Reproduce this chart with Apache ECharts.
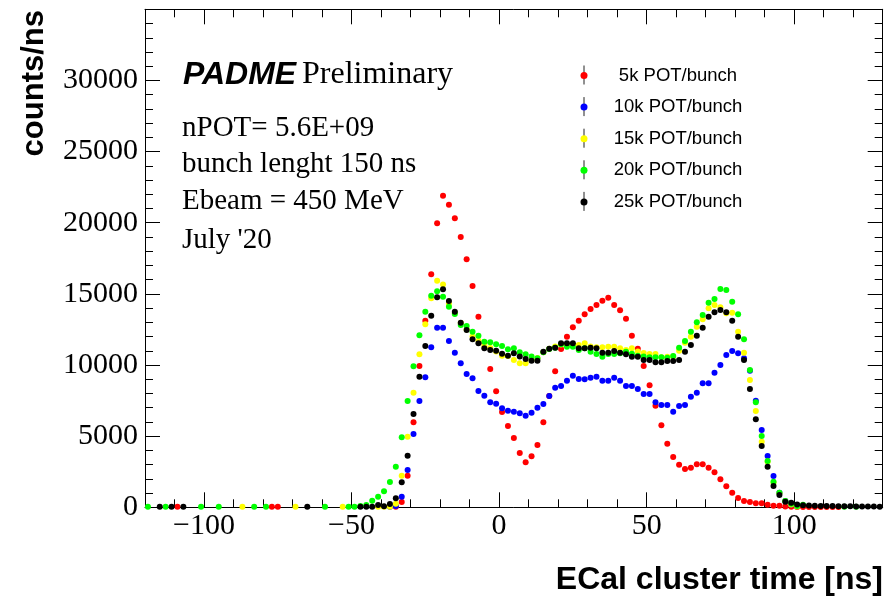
<!DOCTYPE html>
<html><head><meta charset="utf-8">
<script src="https://cdn.jsdelivr.net/npm/echarts@6/dist/echarts.min.js"></script>
<style>html,body{margin:0;padding:0;background:#fff}#c{width:887px;height:600px}</style>
</head><body><div id="c"></div>
<script>
// bin centres (ns)
const timeNs = [
-119,-117,-115,-113,-111,-109,-107,-105,-103,-101,
-99,-97,-95,-93,-91,-89,-87,-85,-83,-81,
-79,-77,-75,-73,-71,-69,-67,-65,-63,-61,
-59,-57,-55,-53,-51,-49,-47,-45,-43,-41,
-39,-37,-35,-33,-31,-29,-27,-25,-23,-21,
-19,-17,-15,-13,-11,-9,-7,-5,-3,-1,
1,3,5,7,9,11,13,15,17,19,
21,23,25,27,29,31,33,35,37,39,
41,43,45,47,49,51,53,55,57,59,
61,63,65,67,69,71,73,75,77,79,
81,83,85,87,89,91,93,95,97,99,
101,103,105,107,109,111,113,115,117,119,
121,123,125,127,129];
const n = null;
const pot5k = [
n,n,n,n,n,30,n,n,n,n,
n,n,n,n,n,n,n,n,n,n,
n,30,30,n,n,n,n,n,n,n,
n,n,n,n,n,n,n,n,n,n,
n,n,30,372,2221,5974,9930,13114,16375,19960,
21900,21267,20311,18997,17430,15553,13395,11550,9720,8152,
6698,5714,4870,3816,3163,3584,4378,5974,7820,9558,
11125,11990,12650,13114,13564,13937,14218,14520,14731,14218,
13845,13255,12060,11146,9930,8574,7140,5763,4470,3535,
2994,2692,2783,3022,3022,2783,2460,1968,1476,1026,
654,443,372,281,281,183,112,112,50,30,
20,20,20,20,20,20,20,20,n,n,
n,n,n,n,n];
const pot10k = [
n,n,n,n,n,n,n,n,n,n,
n,n,n,n,n,n,n,n,n,n,
n,n,n,n,n,n,n,n,n,n,
n,n,n,n,n,n,n,n,n,n,
n,30,91,745,2621,5151,7471,9136,11245,12622,
12622,11688,10865,10120,9368,9066,8173,7843,7379,7281,
6958,6789,6719,6606,6438,6649,7000,7260,7822,8405,
8525,8897,9249,9017,8996,9108,9179,8897,8897,9108,
8897,8525,8525,8314,7963,7963,7379,7190,7190,6719,
7119,7190,7773,8054,8715,8715,9460,10001,10704,10985,
10823,10472,9600,7492,5433,3605,2200,1026,450,200,
80,n,n,n,n,n,n,n,n,n,
n,n,n,n,n];
const pot15k = [
n,n,n,n,n,n,n,n,n,n,
n,n,n,n,n,n,30,n,n,n,
n,n,n,n,n,30,n,n,n,n,
n,n,n,30,n,n,n,n,n,30,
30,30,250,2221,4962,8054,10753,12861,14700,15925,
15650,14300,13650,12950,12500,12000,11700,11350,11200,10950,
10654,10633,10352,10120,10120,10350,10500,10900,11150,11300,
11450,11450,11450,11400,11526,11300,11250,11250,11287,11287,
11174,11055,11174,10950,10850,10774,10774,10542,10584,10600,
11000,11568,11990,12693,13213,13986,14218,14056,13635,13677,
12341,10865,8947,6768,4611,3205,1729,984,420,200,
60,n,n,n,n,n,n,n,n,n,
n,n,n,n,n];
const pot20k = [
30,n,n,30,n,n,n,n,n,30,
n,n,30,n,n,n,n,n,30,n,
30,n,n,n,n,n,n,n,n,n,
30,n,n,n,30,30,100,160,464,745,
1124,1778,2853,4920,7471,9910,12088,13747,14871,15180,
14801,14098,13585,12812,12742,12341,12060,11638,11596,11456,
11336,11104,11174,10900,10753,10600,10472,10893,11125,11217,
11456,11287,11287,11055,11174,10936,10774,10584,10774,10774,
10823,10936,10800,10654,10600,10550,10542,10542,10514,10633,
11217,11688,12341,13002,13515,14380,14640,15342,15272,14450,
13564,11807,9650,7380,5011,3254,1800,1026,443,250,
100,180,n,n,n,n,n,n,30,n,
30,n,n,n,n];
const pot25k = [
n,n,30,n,30,n,30,n,n,n,
n,n,n,n,n,n,n,n,n,n,
n,n,n,n,n,n,n,30,n,n,
n,n,n,n,n,n,40,30,30,160,
80,232,633,1757,3626,6557,9178,11336,13465,14759,
15321,14499,13747,12974,12460,11807,11526,11174,11055,11006,
10800,10654,10823,10600,10423,10303,10303,10936,11150,11217,
11526,11526,11526,11174,11174,11217,11174,10865,10865,10985,
10865,10750,10584,10584,10352,10352,10190,10190,10282,10282,
10352,10936,11407,12060,12622,13395,13705,13866,13705,13114,
11990,10352,8314,6185,4308,2853,1497,864,394,323,
200,150,130,110,100,100,90,80,80,70,
60,60,50,50,40];

const seriesNames = ['5k POT/bunch','10k POT/bunch','15k POT/bunch','20k POT/bunch','25k POT/bunch'];
const seriesColors = ['#ff0000','#0000ff','#ffff00','#00ff00','#000000'];
const seriesValues = [pot5k, pot10k, pot15k, pot20k, pot25k];
const xMajorTicks = [-100,-50,0,50,100];
const annotLines = ['nPOT= 5.6E+09','bunch lenght 150 ns','Ebeam = 450 MeV',"July '20"];

function pairs(vals){ const out=[]; for(let i=0;i<timeNs.length;i++){ if(vals[i]!=null) out.push([timeNs[i], vals[i]]);} return out; }

const serif = 'Liberation Serif';
const sans = 'Liberation Sans';
const tickStyle = {show:true, inside:true, length:8, lineStyle:{color:'#000', width:1}};
const majStyle = {show:true, inside:true, length:15, lineStyle:{color:'#000', width:1}};
const lineStyle = {show:true, onZero:false, lineStyle:{color:'#000', width:1}};
const noLine = {show:false, onZero:false};
const fmtX = v => (v % 50 === 0 ? (v < 0 ? '\u2212' + (-v) : String(v)) : '');

const chart = echarts.init(document.getElementById('c'), null, {renderer:'canvas'});
const legendRows = [75, 106.6, 138.2, 169.8, 201.4];
const option = {
  animation:false,
  backgroundColor:'#fff',
  grid:{left:145, right:4.3, top:9.3, bottom:92.7, containLabel:false},
  xAxis:[
    {type:'value', position:'bottom', min:-120, max:130, interval:10, axisLine:lineStyle, axisTick:tickStyle,
     splitLine:{show:false}, axisLabel:{formatter:fmtX, fontFamily:serif, fontSize:30, color:'#000', margin:4}},
    {type:'value', position:'bottom', min:-120, max:130, axisLine:noLine,
     axisTick:Object.assign({customValues:xMajorTicks}, majStyle), splitLine:{show:false}, axisLabel:{show:false}},
    {type:'value', position:'top', min:-120, max:130, interval:10, axisLine:lineStyle, axisTick:tickStyle,
     splitLine:{show:false}, axisLabel:{show:false}},
    {type:'value', position:'top', min:-120, max:130, axisLine:noLine,
     axisTick:Object.assign({customValues:xMajorTicks}, majStyle), splitLine:{show:false}, axisLabel:{show:false}}
  ],
  yAxis:[
    {type:'value', position:'left', min:0, max:35000, interval:5000, axisLine:lineStyle, axisTick:majStyle,
     minorTick:{show:true, splitNumber:5, length:8, lineStyle:{color:'#000'}}, splitLine:{show:false}, minorSplitLine:{show:false},
     axisLabel:{formatter:v => (v >= 35000 ? '' : String(v)), fontFamily:serif, fontSize:30, color:'#000', margin:7}},
    {type:'value', position:'right', min:0, max:35000, interval:5000, axisLine:lineStyle, axisTick:majStyle,
     minorTick:{show:true, splitNumber:5, length:8, lineStyle:{color:'#000'}}, splitLine:{show:false}, axisLabel:{show:false}}
  ],
  legend:{
    orient:'vertical', left:575.5, top:61, itemGap:12.6, itemWidth:7, itemHeight:7, icon:'circle',
    data:seriesNames,
    formatter: name => '{a|' + name + '}',
    textStyle:{rich:{a:{width:171, align:'center', fontFamily:sans, fontSize:18.5, lineHeight:20, color:'#000'}}}
  },
  graphic:[
    ...legendRows.map(y => ({type:'line', z:0, shape:{x1:584, y1:y-9.5, x2:584, y2:y+9.5}, style:{stroke:'#222', lineWidth:1}})),
    {type:'text', x:183, y:75, style:{text:'PADME', font:'italic bold 32px "Liberation Sans"', fill:'#000', verticalAlign:'middle'}},
    {type:'text', x:302, y:75, style:{text:'Preliminary', font:'32px "Liberation Serif"', fill:'#000', verticalAlign:'middle'}},
    ...annotLines.map((t,i) => ({type:'text', x:182, y:[128,164,201,240][i], style:{text:t, font:'29px "Liberation Serif"', fill:'#000', verticalAlign:'middle'}})),
    {type:'text', x:883, y:580, style:{text:'ECal cluster time [ns]', font:'bold 32px "Liberation Sans"', fill:'#000', align:'right', verticalAlign:'middle'}},
    {type:'text', x:34, y:10, rotation:Math.PI/2, style:{text:'counts/ns', font:'bold 31px "Liberation Sans"', fill:'#000', align:'right', verticalAlign:'middle'}}
  ],
  series: seriesNames.map((nm,k) => ({
    name:nm, type:'scatter', xAxisIndex:0, yAxisIndex:0, symbol:'circle', symbolSize:6,
    itemStyle:{color:seriesColors[k], opacity:1}, data:pairs(seriesValues[k]), z:2+k
  }))
};
chart.setOption(option);
</script></body></html>
